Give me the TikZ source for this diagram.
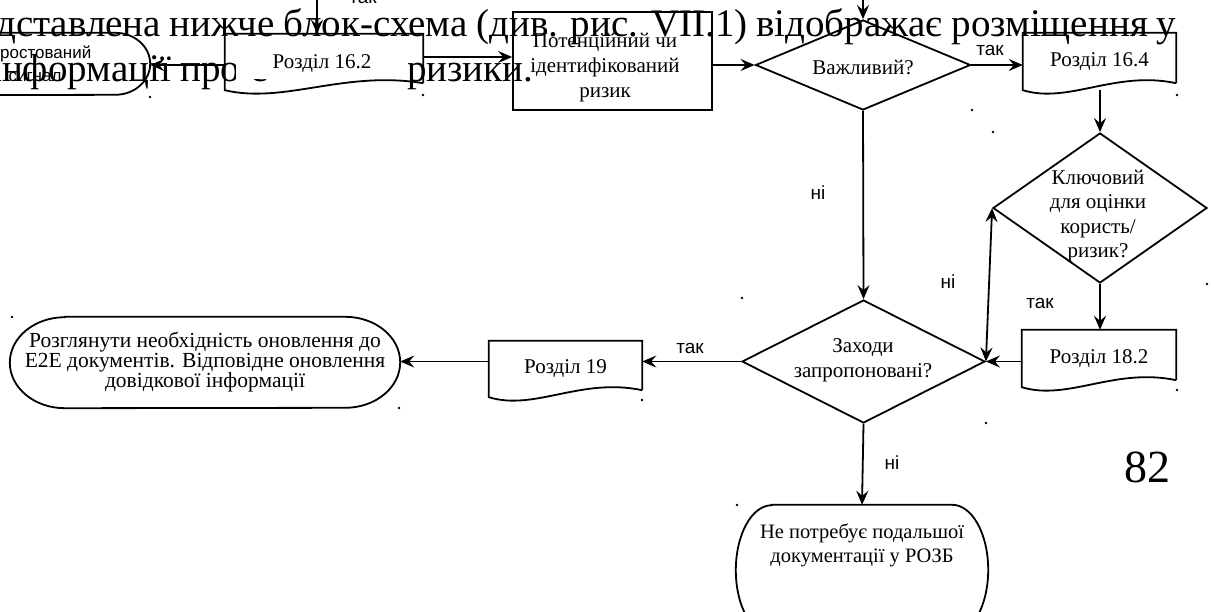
\documentclass[tikz,border=0pt]{standalone}
\usepackage{fontspec}
\setmainfont{Liberation Serif}
\newfontfamily\labfont{Liberation Sans}
\usetikzlibrary{shapes.geometric,arrows.meta,calc}
\newcommand{\docoutline}[1]{%
  \draw[ln] ([yshift=7pt]#1.south east) -- (#1.north east) -- (#1.north west) -- (#1.south west)
    .. controls ($(#1.south west)!0.3!(#1.south east)+(0,14)$) and ($(#1.south west)!0.6!(#1.south east)+(0,-20)$) .. ([yshift=7pt]#1.south east);}
\newcommand{\termoutline}[3]{%
  \draw[ln] ([xshift=#2pt]#1.north west) -- ([xshift=-#2pt]#1.north east)
    arc[start angle=90, end angle=-90, x radius=#2pt, y radius=#3pt]
    -- ([xshift=#2pt]#1.south west)
    arc[start angle=270, end angle=90, x radius=#2pt, y radius=#3pt] -- cycle;}
\begin{document}
\begin{tikzpicture}[x=1pt,y=-1pt,
  ln/.style={line width=1.8pt},
  arr/.style={ln,-{Stealth[length=14pt,width=12pt,inset=5pt]}},
  arrboth/.style={ln,{Stealth[length=14pt,width=12pt,inset=5pt]}-{Stealth[length=14pt,width=12pt,inset=5pt]}},
  sfont/.style={font=\fontsize{21}{25}\selectfont},
  plain/.style={rectangle, inner sep=0pt, align=center, sfont},
  boxed/.style={rectangle, draw, ln, inner sep=0pt, align=center, sfont},
  dia/.style={diamond, draw, ln, inner sep=0pt},
  lab/.style={font=\labfont\fontsize{19}{19}\selectfont, inner sep=0pt},
  body/.style={inner sep=0pt, anchor=base west, font=\fontsize{39}{39}\selectfont}
]
\fill[white] (0,0) rectangle (1214,612);
\useasboundingbox (0,0) rectangle (1214,612);
\clip (0,0) rectangle (1214,612);

% top-left terminal
\node[plain, minimum width=230pt, minimum height=62pt, font=\labfont\fontsize{17}{23}\selectfont] (sa) at (35,64) {Спростований\\сигнал};
\termoutline{sa}{35}{31}

% document boxes
\node[plain, minimum width=198pt, minimum height=56pt] (r162) at (324,62) {};
\docoutline{r162}
\node[plain, minimum width=153pt, minimum height=57pt] (r164) at (1099.5,61.5) {Розділ 16.4};
\docoutline{r164}
\node[plain, minimum width=154pt, minimum height=57pt] (r182) at (1099,358.5) {Розділ 18.2};
\docoutline{r182}
\node[plain, minimum width=153pt, minimum height=56pt] (r19) at (565.5,369) {Розділ 19};
\docoutline{r19}

% process box
\node[boxed, minimum width=199pt, minimum height=98pt] (pot) at (612.5,61) {};
\node[plain, font=\fontsize{21}{25}\selectfont] (pott) at (605,68) {Потенційний чи\\ідентифікований\\ризик};

% decisions
\node[dia, minimum width=215pt, minimum height=90pt] (vaz) at (863,65) {};
\node[plain] (vazt) at (863,67) {Важливий?};
\node[dia, minimum width=214pt, minimum height=150pt] (kd) at (1100,208) {};
\node[plain, font=\fontsize{21}{24.5}\selectfont] (kdt) at (1098,216) {Ключовий\\для оцінки\\користь/\\ризик?};
\node[dia, minimum width=243pt, minimum height=123pt] (zd) at (863.5,361.5) {};
\node[plain] (zdt) at (863,360) {Заходи\\запропоновані?};

% bottom-left terminal
\node[plain, minimum width=390pt, minimum height=91pt, font=\fontsize{21.5}{19.5}\selectfont] (bs) at (205,362.5) {Розглянути необхідність оновлення до\\Е2Е документів. Відповідне оновлення\\довідкової інформації};
\termoutline{bs}{55}{45.5}

% bottom terminal
\node[plain, minimum width=252pt, minimum height=130pt] (et) at (862,570) {};
\termoutline{et}{36}{65}
\node[plain, font=\fontsize{20.5}{24}\selectfont] (ett) at (862,545) {Не потребує подальшої\\документації у РОЗБ};

% connectors
\coordinate (rtop) at (317,-5);
\coordinate (vtop) at (863,-5);
\draw[arr] (rtop) -- (rtop |- r162.north);
\draw[arr] (vtop) -- (vaz.north);
\draw[arr] ([yshift=-3pt]r162.west) -- ([yshift=-3pt]r162.west -| sa.east);
\draw[arr] ([yshift=5pt]r162.east) -- ([yshift=5pt]r162.east -| pot.west);
\draw[arr] (pot.east |- vaz.west) -- (vaz.west);
\draw[arr] (vaz.east) -- (vaz.east -| r164.west);
\draw[arr] (kd.north |- r164.south) -- (kd.north);
\draw[arr] (kd.south) -- (kd.south |- r182.north);
\draw[arr] (r182.west |- zd.east) -- (zd.east);
\draw[arrboth] (zd.east) -- (kd.west);
\draw[arr] (vaz.south) -- (zd.north);
\draw[arr] (zd.west) -- (zd.west -| r19.east);
\draw[arr] (r19.west |- zd.west) -- (bs.east |- zd.west);
\draw[arr] (zd.south) -- (et.north);

% connector labels
\node[lab] (l1) at (363,-2) {так};
\node[lab] (l2) at (990,50) {так};
\node[lab] (l3) at (818,193) {ні};
\node[lab] (l4) at (948,282) {ні};
\node[lab] (l5) at (1040,303) {так};
\node[lab] (l6) at (690,348) {так};
\node[lab] (l7) at (892,463) {ні};

% overlapping page text
\node[body] (tx1) at (-4,37) {\makebox[1180pt][s]{дставлена нижче блок-схема (див. рис. VII.1) відображає розміщення у}};
\node[body] (tx2) at (-9,82) {інформації про с};
\node[body] (tx3) at (407,82) {ризики.};
\node[inner sep=0pt, font=\fontsize{46}{46}\selectfont] (pg) at (1147,467) {82};

% label of the first document box, its white ground hides the line beneath
\node[plain, fill=white, minimum width=172pt, minimum height=30pt] (r162t) at (322,64) {Розділ 16.2};

% stray dots
\foreach \p in {(150,97),(423,95),(972,110),(993,132),(1177,95),(1207,284),(742,298),(1177,390),(986,423),(12,317),(399,408),(642,400),(737,505)}
  \fill \p circle (1.3);
\end{tikzpicture}
\end{document}
